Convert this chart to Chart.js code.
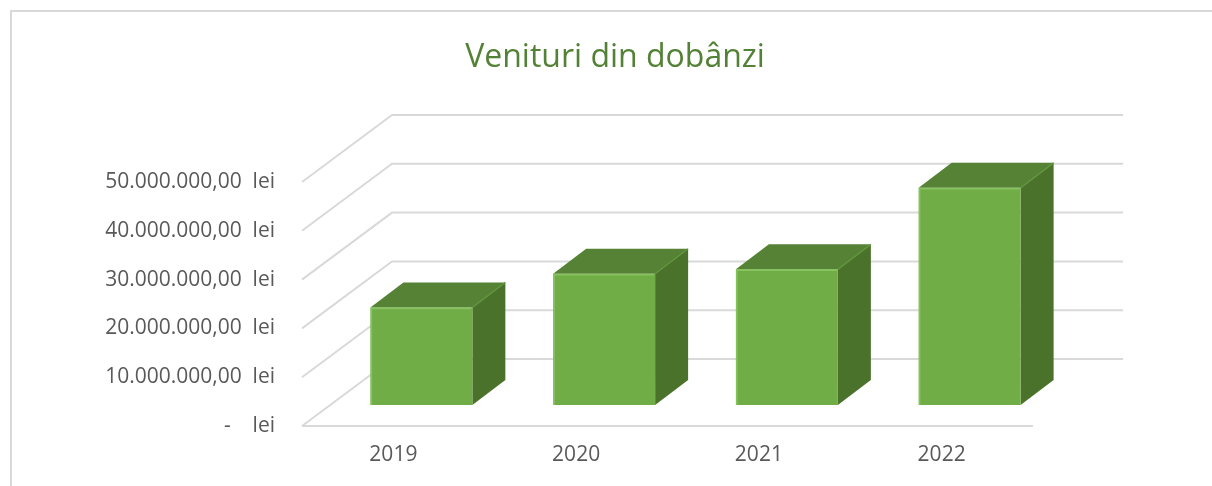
<!DOCTYPE html>
<html>
<head>
<meta charset="utf-8">
<script src="https://cdn.jsdelivr.net/npm/chart.js@4.4.0/dist/chart.umd.min.js"></script>
<style>
html, body { margin: 0; padding: 0; background: #fff; }
#wrap { width: 1212px; height: 486px; }
</style>
</head>
<body>
<div id="wrap"><canvas id="myChart" width="1212" height="486"></canvas></div>
<script>
// Venituri din dobanzi, lei
var years = ['2019', '2020', '2021', '2022'];
var income = [20000000, 26900000, 27800000, 44500000];
var yTicks = [0, 10000000, 20000000, 30000000, 40000000, 50000000];

// depth of the fake 3D box (front plane -> bar front, bar depth, back wall)
var FRONT_DX = 28, FRONT_DY = 21;
var BAR_DX = 33, BAR_DY = 25;
var WALL_DX = 90, WALL_DY = 67;

function leiLabel(v) {
    if (v === 0) return '-    lei';
    var s = String(Math.round(v)).replace(/\B(?=(\d{3})+(?!\d))/g, '.');
    return s + ',00  lei';
}

function poly(ctx, pts, fill) {
    ctx.beginPath();
    ctx.moveTo(pts[0][0], pts[0][1]);
    for (var i = 1; i < pts.length; i++) ctx.lineTo(pts[i][0], pts[i][1]);
    ctx.closePath();
    ctx.fillStyle = fill;
    ctx.fill();
}

var box3d = {
    id: 'box3d',
    beforeDraw: function (chart) {
        var ctx = chart.ctx;
        ctx.save();
        // chart frame (only top/left edge visible)
        ctx.strokeStyle = '#d9d9d9';
        ctx.lineWidth = 2;
        ctx.beginPath();
        ctx.moveTo(11, 486);
        ctx.lineTo(11, 11);
        ctx.lineTo(1212, 11);
        ctx.stroke();
        ctx.restore();
    },
    beforeDatasetsDraw: function (chart) {
        var ctx = chart.ctx, a = chart.chartArea, y = chart.scales.y;
        ctx.save();
        ctx.strokeStyle = '#d9d9d9';
        ctx.lineWidth = 2;
        y.ticks.forEach(function (t) {
            var py = y.getPixelForValue(t.value);
            ctx.beginPath();
            ctx.moveTo(a.left, py);
            ctx.lineTo(a.left + WALL_DX, py - WALL_DY);
            ctx.lineTo(a.right + WALL_DX, py - WALL_DY);
            ctx.stroke();
        });
        var y0 = y.getPixelForValue(0);
        ctx.beginPath();
        ctx.moveTo(a.left, y0);
        ctx.lineTo(a.right, y0);
        ctx.stroke();
        ctx.restore();
    },
    afterDatasetsDraw: function (chart) {
        var ctx = chart.ctx;
        var meta = chart.getDatasetMeta(0);
        ctx.save();
        meta.data.forEach(function (bar) {
            var p = bar.getProps(['x', 'y', 'base', 'width'], true);
            var l = p.x - p.width / 2 + FRONT_DX, r = l + p.width;
            var top = p.y - FRONT_DY, bot = p.base - FRONT_DY;
            // side
            poly(ctx, [[r, top], [r + BAR_DX, top - BAR_DY], [r + BAR_DX, bot - BAR_DY], [r, bot]], '#4a722b');
            // top
            poly(ctx, [[l, top], [l + BAR_DX, top - BAR_DY], [r + BAR_DX, top - BAR_DY], [r, top]], '#558235');
            // front
            poly(ctx, [[l, top], [r, top], [r, bot], [l, bot]], '#70ad47');
            // bevel highlights
            ctx.strokeStyle = 'rgba(140,200,100,0.8)';
            ctx.lineWidth = 1.5;
            ctx.beginPath();
            ctx.moveTo(l + 1, bot);
            ctx.lineTo(l + 1, top + 1);
            ctx.lineTo(r - 1, top + 1);
            ctx.stroke();
            ctx.strokeStyle = 'rgba(95,150,60,0.9)';
            ctx.beginPath();
            ctx.moveTo(r, top);
            ctx.lineTo(r + BAR_DX, top - BAR_DY);
            ctx.stroke();
        });
        ctx.restore();
    }
};

var ctx = document.getElementById('myChart').getContext('2d');
var chart = new Chart(ctx, {
    type: 'bar',
    data: {
        labels: years,
        datasets: [{
            label: 'Venituri din dobânzi',
            data: income,
            backgroundColor: 'rgba(0,0,0,0)',
            borderWidth: 0,
            barPercentage: 0.558,
            categoryPercentage: 1
        }]
    },
    options: {
        responsive: false,
        animation: false,
        layout: {
            padding: { left: 18, right: 0, top: 0, bottom: 0 }
        },
        plugins: {
            legend: { display: false },
            tooltip: { enabled: false },
            title: {
                display: true,
                text: 'Venituri din dobânzi',
                color: '#538135',
                font: { family: 'Open Sans', size: 32, weight: 'normal' },
                padding: { top: 39, bottom: 104.6 }
            }
        },
        scales: {
            x: {
                grid: { display: false, drawTicks: false },
                border: { display: false },
                afterFit: function (s) { s.height = 60; },
                ticks: {
                    color: '#595959',
                    padding: 16,
                    font: { family: 'Open Sans', size: 21 }
                }
            },
            y: {
                min: 0,
                max: 50000000,
                grid: { display: false, drawTicks: false },
                border: { display: false },
                afterBuildTicks: function (s) {
                    s.ticks = yTicks.map(function (v) { return { value: v }; });
                },
                afterFit: function (s) { s.width = 284; },
                ticks: {
                    color: '#595959',
                    padding: 27,
                    font: { family: 'Open Sans', size: 21 },
                    callback: function (v) { return leiLabel(v); }
                }
            },
            // empty spacer on the right, room for the 3D back wall
            yRight: {
                type: 'linear',
                position: 'right',
                grid: { display: false, drawTicks: false },
                border: { display: false },
                ticks: { display: false },
                afterFit: function (s) { s.width = 179; }
            }
        }
    },
    plugins: [box3d]
});
</script>
</body>
</html>
